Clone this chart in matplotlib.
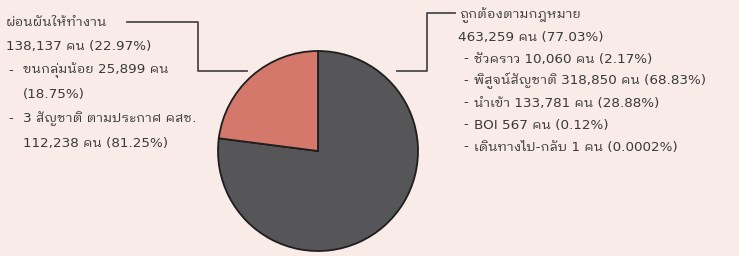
import matplotlib
matplotlib.use("Agg")
import matplotlib.pyplot as plt
from matplotlib import font_manager
from matplotlib.ft2font import FT2Font

# pick a font that has Thai glyphs, if one is installed (looped style first)
thai_fonts = []
for path in font_manager.findSystemFonts():
    try:
        if 0x0E01 in FT2Font(path).get_charmap():
            thai_fonts.append(font_manager.FontProperties(fname=path).get_name())
    except Exception:
        pass
thai_fonts = sorted(set(thai_fonts), key=lambda n: ("Looped" not in n, n))
plt.rcParams["font.family"] = ["DejaVu Sans"] + thai_fonts

# data
labels = ["ถูกต้องตามกฎหมาย", "ผ่อนผันให้ทำงาน"]
counts = [463259, 138137]
shares = [77.03, 22.97]
colors = ["#565658", "#d4786c"]

legal_items = ["ชั่วคราว 10,060 คน (2.17%)",
               "พิสูจน์สัญชาติ 318,850 คน (68.83%)",
               "นำเข้า 133,781 คน (28.88%)",
               "BOI 567 คน (0.12%)",
               "เดินทางไป-กลับ 1 คน (0.0002%)"]
waiver_items = [["ขนกลุ่มน้อย 25,899 คน", "(18.75%)"],
                ["3 สัญชาติ ตามประกาศ คสช.", "112,238 คน (81.25%)"]]

W, H = 739, 256
bg = "#f9ebe8"
fig = plt.figure(figsize=(W / 100, H / 100), dpi=100, facecolor=bg)

ax = fig.add_axes([218 / W, 1 - 251 / H, 200 / W, 200 / H])
ax.pie(counts, colors=colors, startangle=90, counterclock=False,
       wedgeprops=dict(edgecolor="#1e1e1e", linewidth=1.3))
ax.set_xlim(-1, 1)
ax.set_ylim(-1, 1)
for p in ax.patches:
    p.set_clip_on(False)


def px(x, y):
    return x / W, 1 - y / H


fs = 9.7
tc = "#3a3a3a"

# left block
y0, dy = 22, 24.2
fig.text(*px(6, y0), labels[1], fontsize=fs, color=tc, va="center")
fig.text(*px(6, y0 + dy), f"{counts[1]:,} คน ({shares[1]:.2f}%)", fontsize=fs, color=tc, va="center")
row = 2
for item in waiver_items:
    fig.text(*px(8, y0 + row * dy), "-", fontsize=fs, color=tc, va="center")
    for line in item:
        fig.text(*px(23, y0 + row * dy), line, fontsize=fs, color=tc, va="center")
        row += 1

# right block
y1, dy1 = 15, 22
fig.text(*px(459, y1), labels[0], fontsize=fs, color=tc, va="center")
fig.text(*px(458, y1 + dy1), f"{counts[0]:,} คน ({shares[0]:.2f}%)", fontsize=fs, color=tc, va="center")
for i, item in enumerate(legal_items):
    fig.text(*px(463, y1 + (i + 2) * dy1), "-", fontsize=fs, color=tc, va="center")
    fig.text(*px(474, y1 + (i + 2) * dy1), item, fontsize=fs, color=tc, va="center")

# leader lines
lc = "#4a4a4a"
for xs, ys in [([127, 198, 198, 247], [22, 22, 71, 71]),
               ([455, 427, 427, 397], [13, 13, 71, 71])]:
    fig.add_artist(plt.Line2D([x / W for x in xs], [1 - y / H for y in ys],
                              color=lc, linewidth=1.3, transform=fig.transFigure))

fig.savefig("out.png", dpi=100, facecolor=bg)
